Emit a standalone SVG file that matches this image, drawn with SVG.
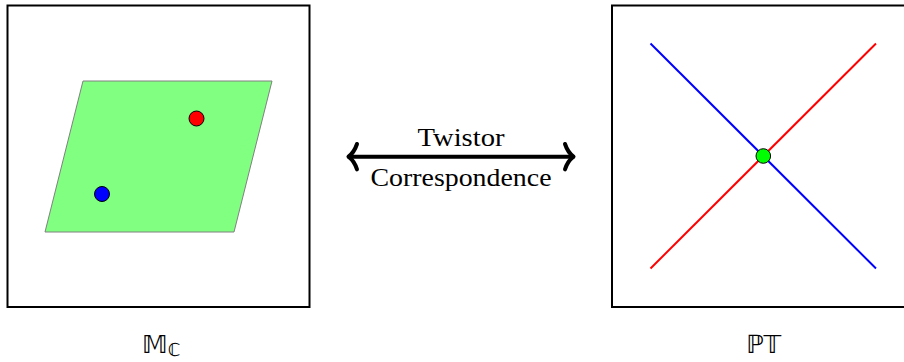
<svg xmlns="http://www.w3.org/2000/svg" width="904" height="362" viewBox="0 0 904 362">
<style>
.frame{fill:#fff;stroke:#000;stroke-width:2}
.dot{stroke:#000;stroke-width:1}
.lbl{font-family:"Liberation Serif","Times New Roman",serif;font-size:26px;fill:#000;text-anchor:middle}
.math{font-family:"DejaVu Sans","Noto Sans",sans-serif;fill:#000}
.arr{fill:none;stroke:#000;stroke-width:4;stroke-linecap:round;stroke-linejoin:round}
</style>
<rect width="904" height="362" fill="#fff"/>
<g id="left-panel">
<rect class="frame" x="7.5" y="5.5" width="302" height="301.5"/>
<polygon points="83,81 272,81 234,232 45,232" fill="#80ff80" stroke="#808080" stroke-width="1"/>
<circle class="dot" cx="196.5" cy="118.5" r="7.5" fill="#ff0000"/>
<circle class="dot" cx="102" cy="194" r="7.5" fill="#0000ff"/>
<text class="math" x="142" y="352.5" font-size="25">𝕄<tspan font-size="18" dy="3">ℂ</tspan></text>
</g>
<g id="right-panel">
<rect class="frame" x="612" y="5.5" width="302" height="301.5"/>
<line x1="650.5" y1="43.5" x2="876" y2="268.5" stroke="#0000ff" stroke-width="2"/>
<line x1="650.5" y1="268.5" x2="876" y2="43.5" stroke="#ff0000" stroke-width="2"/>
<circle class="dot" cx="763.3" cy="156" r="7.3" fill="#00ff00"/>
<text class="math" x="746" y="352.5" font-size="25">ℙ𝕋</text>
</g>
<g id="connectors">
<line class="arr" x1="349" y1="156.7" x2="573" y2="156.7"/>
<path class="arr" d="M357,144 C355,150 352,154 348.5,156.7 C352,159.4 355,163 357,169.4"/>
<path class="arr" d="M565,144 C567,150 570,154 573.5,156.7 C570,159.4 567,163 565,169.4"/>
<text class="lbl" x="461" y="146" textLength="87" lengthAdjust="spacingAndGlyphs">Twistor</text>
<text class="lbl" x="461" y="186" textLength="181" lengthAdjust="spacingAndGlyphs">Correspondence</text>
</g>
</svg>
